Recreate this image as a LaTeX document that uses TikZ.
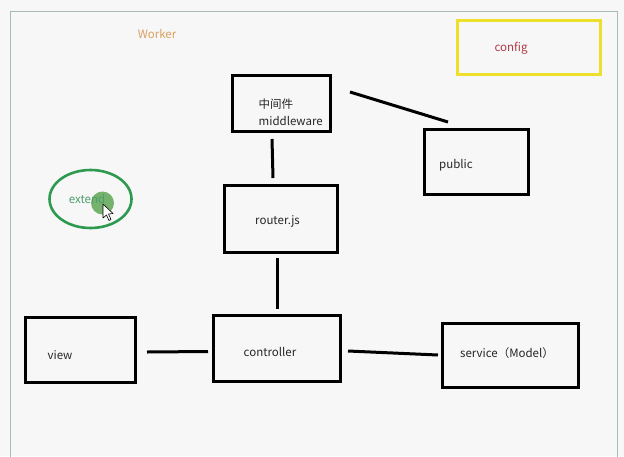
\documentclass[tikz,border=0pt]{standalone}
\usepackage{fontspec}
\setmainfont{Noto Sans CJK SC}
\usetikzlibrary{shapes.geometric}
\definecolor{bg}{HTML}{F7F7F7}
\definecolor{framec}{HTML}{A8BDB5}
\definecolor{workerc}{HTML}{D9A060}
\definecolor{configc}{HTML}{B03A4A}
\definecolor{yellowc}{HTML}{EEE02A}
\definecolor{greenc}{HTML}{2E9A50}
\definecolor{extendc}{HTML}{4E9E6E}
\definecolor{dotc}{HTML}{5FA656}
\begin{document}
\begin{tikzpicture}[x=1pt,y=-1pt,
  box/.style={draw=black, line width=3pt, rectangle, inner sep=0pt},
  lbl/.style={inner sep=0pt, font=\fontsize{11.5}{14}\selectfont, text=black!85},
  conn/.style={draw=black, line width=3pt}]
\useasboundingbox (0,0) rectangle (624,456);
\fill[bg] (0,0) rectangle (624,456);
% outer frame
\draw[framec, line width=1.5pt] (10.5,470) -- (10.5,11.5) -- (617.5,11.5) -- (617.5,470);
% Worker label
\node[lbl, text=workerc] (worker) at (157,34) {Worker};
% config
\node[box, draw=yellowc, minimum width=143pt, minimum height=54pt] (config) at (529,47) {};
\node[lbl, text=configc] (configt) at (511,48) {config};
% middleware
\node[box, minimum width=98pt, minimum height=56pt] (mid) at (281.5,103.5) {};
\node[lbl, anchor=west] (midcn) at (258.5,104) {中间件};
\node[lbl, anchor=west] (midt) at (258.5,121) {middleware};
% public
\node[box, minimum width=104pt, minimum height=65pt] (pub) at (476.5,161.5) {};
\node[lbl] (pubt) at (456,165) {public};
% router
\node[box, minimum width=113pt, minimum height=67pt] (router) at (281,219) {};
\node[lbl] (routert) at (277.5,221) {router.js};
% controller
\node[box, minimum width=127pt, minimum height=66pt] (ctrl) at (277,348.5) {};
\node[lbl] (ctrlt) at (270,352) {controller};
% view
\node[box, minimum width=110pt, minimum height=65pt] (view) at (80,350) {};
\node[lbl] (viewt) at (60,355) {view};
% service
\node[box, minimum width=136pt, minimum height=64pt] (serv) at (510,355) {};
\node[lbl] (servt) at (507,353) {service（Model）};
% extend
\node[ellipse, draw=greenc, line width=2.6pt, minimum width=82pt, minimum height=58pt] (ext) at (90.5,199) {};
\fill[dotc, opacity=0.85] (102.5,203) circle (11.5);
\node[lbl, text=extendc] (extt) at (87,199) {extend};
\draw[black, fill=white, line width=0.6pt, line join=round] (103,204) -- (103,218) -- (106.5,215) -- (109,220.5) -- (111,219.5) -- (108.5,214) -- (113,213.5) -- cycle;
% connector end points
\coordinate (m1) at (350,92);
\coordinate (p1) at (448,122);
\coordinate (m2) at (272,139);
\coordinate (r1) at (273,178);
\coordinate (r2) at (277,258);
\coordinate (c1) at (277,309);
\coordinate (v1) at (147,352);
\coordinate (c2) at (208,351.5);
\coordinate (c3) at (348,351);
\coordinate (s1) at (438,355);
\draw[conn] (m1) -- (p1);
\draw[conn] (m2) -- (r1);
\draw[conn] (r2) -- (c1);
\draw[conn] (v1) -- (c2);
\draw[conn] (c3) -- (s1);
\end{tikzpicture}
\end{document}
